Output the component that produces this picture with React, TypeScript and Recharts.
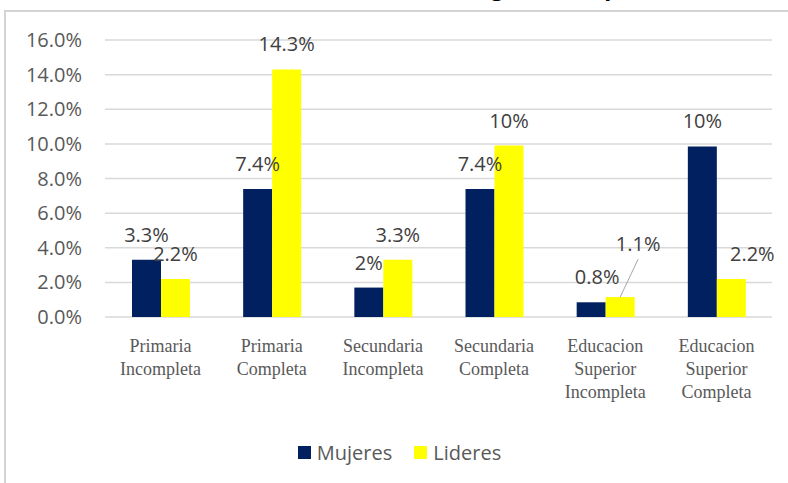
import React from 'react';
import { BarChart, Bar, XAxis, YAxis, CartesianGrid, Legend, LabelList } from 'recharts';

const categories = [
  'Primaria Incompleta',
  'Primaria Completa',
  'Secundaria Incompleta',
  'Secundaria Completa',
  'Educacion Superior Incompleta',
  'Educacion Superior Completa',
];
const mujeres = [3.3, 7.4, 1.7, 7.4, 0.85, 9.85];
const lideres = [2.2, 14.3, 3.3, 9.9, 1.15, 2.2];
const mujeresLabels = ['3.3%', '7.4%', '2%', '7.4%', '0.8%', '10%'];
const lideresLabels = ['2.2%', '14.3%', '3.3%', '10%', '1.1%', '2.2%'];
const yTicks = [0, 2, 4, 6, 8, 10, 12, 14, 16];

const NAVY = '#002060';
const YELLOW = '#FFFF00';
const SANS = '"Open Sans", sans-serif';

const data = categories.map((name, i) => ({
  name,
  Mujeres: mujeres[i],
  Lideres: lideres[i],
  mujeresLabel: mujeresLabels[i],
  lideresLabel: lideresLabels[i],
}));

// label nudges (dx, dy, leader line) the way the original has them placed
const shifts: Record<string, Record<number, [number, number, boolean?]>> = {
  Mujeres: { 4: [6, 0] },
  Lideres: { 4: [18, -28, true], 5: [21, 0] },
};

const makeLabel = (series: string) => (props: any) => {
  const { x, y, width, value, index } = props;
  const [dx, dy, leader] = shifts[series][index] || [0, 0, false];
  const cx = x + width / 2;
  const ly = y - 25 + dy;
  return (
    <g>
      {leader && <line x1={cx + dx} y1={ly + 15} x2={cx} y2={y} stroke="#a6a6a6" strokeWidth={1} />}
      <text x={cx + dx} y={ly} dy={7} textAnchor="middle" fontFamily={SANS} fontSize={20} fill="#404040">
        {value}
      </text>
    </g>
  );
};

const CategoryTick = (props: any) => {
  const { x, y, payload } = props;
  const words = String(payload.value).split(' ');
  return (
    <text textAnchor="middle" fontFamily='"Liberation Serif", "Times New Roman", serif' fontSize={18} fill="#595959">
      {words.map((w, i) => (
        <tspan key={i} x={x} y={y + 27 + i * 23}>
          {w}
        </tspan>
      ))}
    </text>
  );
};

const LegendContent = () => (
  <div style={{ display: 'flex', justifyContent: 'center', alignItems: 'center', paddingLeft: 27, paddingTop: 8, height: 42, fontFamily: SANS, fontSize: 20, color: '#595959' }}>
    {[
      ['Mujeres', NAVY],
      ['Lideres', YELLOW],
    ].map(([label, color], i) => (
      <div key={label} style={{ display: 'flex', alignItems: 'center', marginLeft: i ? 22 : 0 }}>
        <span style={{ width: 13, height: 13, background: color, marginRight: 6 }} />
        <span>{label}</span>
      </div>
    ))}
  </div>
);

export default function App() {
  return (
    <div style={{ position: 'fixed', left: 0, top: 0, width: 788, height: 483, overflow: 'hidden', background: '#fff' }}>
      <BarChart width={788} height={483} data={data} margin={{ top: 40, right: 16, bottom: 10, left: 0 }} barGap={0} barSize={29}>
        <CartesianGrid vertical={false} stroke="#d9d9d9" strokeWidth={1.5} />
        <XAxis dataKey="name" axisLine={false} tickLine={false} interval={0} height={106} tick={<CategoryTick />} />
        <YAxis
          width={105}
          domain={[0, 16]}
          ticks={yTicks}
          axisLine={false}
          tickLine={false}
          tickMargin={17}
          tickFormatter={(v: number) => v.toFixed(1) + '%'}
          tick={{ fontFamily: SANS, fontSize: 20, fill: '#595959' }}
        />
        <Legend verticalAlign="bottom" height={50} content={<LegendContent />} />
        <Bar dataKey="Mujeres" fill={NAVY} isAnimationActive={false}>
          <LabelList dataKey="mujeresLabel" content={makeLabel('Mujeres')} />
        </Bar>
        <Bar dataKey="Lideres" fill={YELLOW} isAnimationActive={false}>
          <LabelList dataKey="lideresLabel" content={makeLabel('Lideres')} />
        </Bar>
      </BarChart>
      <svg style={{ position: 'absolute', left: 0, top: 0, pointerEvents: 'none' }} width={788} height={483}>
        <text x={633} y={-5} textAnchor="end" fontFamily={SANS} fontWeight="bold" fontSize={23} fill="#000">
          Nivel educativo en la categoría, Grupo
        </text>
        <line x1={5} y1={10} x2={5} y2={483} stroke="#d4d4d4" strokeWidth={2} />
        <line x1={4} y1={11} x2={788} y2={11} stroke="#d4d4d4" strokeWidth={2} />
      </svg>
    </div>
  );
}
